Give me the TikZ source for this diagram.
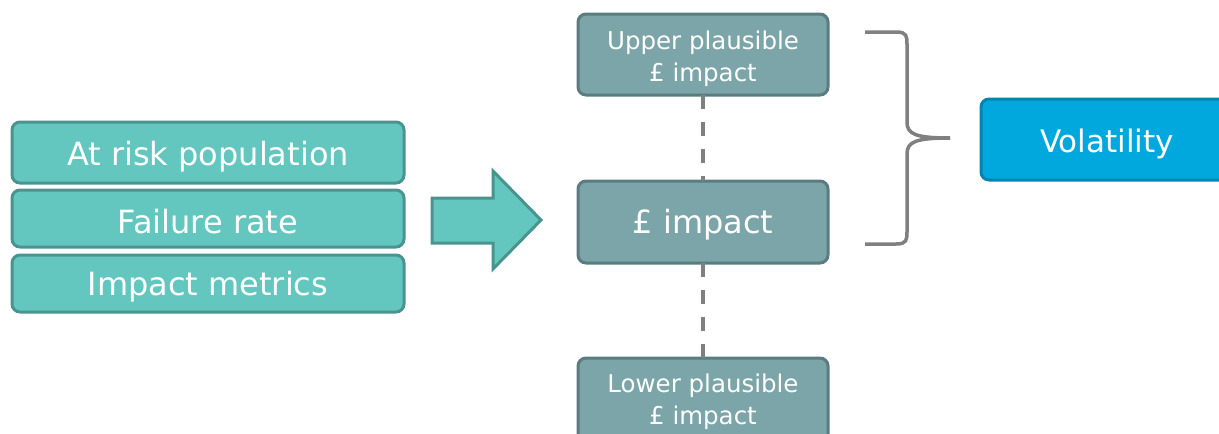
\documentclass[tikz,border=0pt]{standalone}
\usepackage{fontspec}
\setmainfont{DejaVu Sans}
\usetikzlibrary{shapes.arrows}
\definecolor{tealfill}{HTML}{63C7C0}
\definecolor{tealdraw}{HTML}{4A948F}
\definecolor{grayfill}{HTML}{7BA5A8}
\definecolor{graydraw}{HTML}{5A7C80}
\definecolor{bluefill}{HTML}{00A8DE}
\definecolor{bluedraw}{HTML}{0085B0}
\definecolor{linegray}{HTML}{808080}
\begin{document}
\begin{tikzpicture}[x=1pt,y=-1pt,
  inbox/.style={draw=tealdraw,fill=tealfill,line width=3pt,rounded corners=8pt},
  impbox/.style={draw=graydraw,fill=grayfill,line width=3pt,rounded corners=8pt},
  volbox/.style={draw=bluedraw,fill=bluefill,line width=3pt,rounded corners=8pt},
  bigtext/.style={text=white,inner sep=0pt,font=\fontsize{32}{36}\selectfont},
  twoline/.style={text=white,inner sep=0pt,align=center,font=\fontsize{24.5}{32}\selectfont},
  dashline/.style={draw=linegray,line width=4pt,dash pattern=on 14pt off 13pt},
  bracelin/.style={draw=linegray,line width=3.5pt}]
\useasboundingbox (0,0) rectangle (1219,434);
\clip (0,0) rectangle (1219,434);
% left input boxes
\draw[inbox] (12,122) rectangle (404,183);
\node[bigtext] (pop) at (208,157) {At risk population};
\draw[inbox] (12,190) rectangle (404,247);
\node[bigtext] (fail) at (208,222) {Failure rate};
\draw[inbox] (12,255) rectangle (404,312);
\node[bigtext] (metrics) at (208,287) {Impact metrics};
% block arrow
\draw[draw=tealdraw,fill=tealfill,line width=3pt,line join=miter]
  (432,198) -- (493,198) -- (493,171) -- (541,220) -- (493,269) -- (493,243) -- (432,243) -- cycle;
\coordinate (arrowtip) at (541,220);
% middle boxes
\draw[impbox] (578,14) rectangle (828,95);
\node[twoline] (upper) at (703,59) {Upper plausible\\£ impact};
\draw[impbox] (578,181) rectangle (828,263);
\node[bigtext] (mid) at (703,225) {£ impact};
\draw[impbox] (578,358) rectangle (828,470);
\node[twoline] (lower) at (703,402) {Lower plausible\\£ impact};
\coordinate (upB) at (703,95);
\coordinate (midT) at (703,181);
\coordinate (midB) at (703,263);
\coordinate (lowT) at (703,358);
\draw[dashline] (upB) -- (midT);
\draw[dashline] (midB) -- (lowT);
% brace
\coordinate (bt) at (865,32);
\coordinate (bb) at (865,244);
\coordinate (btip) at (950,138);
\draw[bracelin]
  (bt) -- (896,32) .. controls (907,32) and (907,36) .. (907,45)
  -- (907,122) .. controls (907,134) and (915,138) .. (btip);
\draw[bracelin]
  (bb) -- (896,244) .. controls (907,244) and (907,240) .. (907,231)
  -- (907,154) .. controls (907,142) and (915,138) .. (btip);
% volatility
\draw[volbox] (981,99) rectangle (1240,180);
\node[bigtext,font=\fontsize{31}{36}\selectfont] (vol) at (1107,144) {Volatility};
\end{tikzpicture}
\end{document}
